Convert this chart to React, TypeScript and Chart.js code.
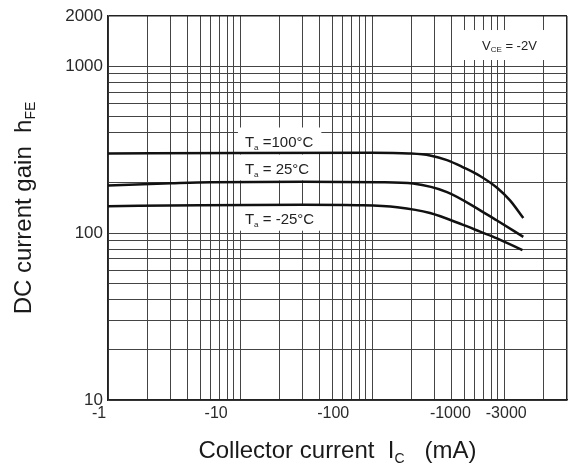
import { useEffect, useRef } from "react";
import { Chart, registerables, ChartConfiguration, Plugin } from "chart.js";

Chart.register(...registerables);

// collector current |Ic| in mA (labels carry the minus sign), hFE
const current100C = [1, 10, 100, 190, 275, 370, 490, 658, 885, 1110, 1400];
const gain100C = [300, 302, 303, 300, 292, 274, 248, 220, 187, 157, 123];
const current25C = [1, 3, 6, 30, 115, 205, 370, 660, 885, 1400];
const gain25C = [193, 199, 202, 203, 202, 198, 176, 137, 119, 95];
const currentMinus25C = [1, 5, 30, 85, 155, 275, 490, 660, 885, 1380];
const gainMinus25C = [145, 147, 148, 147, 143, 132, 112, 102, 93, 79];

const currentTickLabels = [1, 10, 100, 1000, 3000];
const gainTickLabels = [10, 100, 1000, 2000];
const tempTexts = [" =100°C", " = 25°C", " = -25°C"];
const tempAnchorCurrent = [10.9, 10.9, 10.9];
const tempAnchorGain = [354, 244, 122];
const vceAnchor = { x: 681, y: 1340 };

const FONT = '"Liberation Sans", Arial, sans-serif';

function logSteps(min: number, max: number): number[] {
  const out: number[] = [];
  for (let p = Math.floor(Math.log10(min)); Math.pow(10, p) <= max; p++) {
    for (let m = 1; m < 10; m++) {
      const v = m * Math.pow(10, p);
      if (v >= min && v <= max) out.push(v);
    }
  }
  return out;
}

type Part = { t: string; size: number; dy: number };

function drawParts(
  ctx: CanvasRenderingContext2D,
  parts: Part[],
  x: number,
  baseline: number,
  draw: boolean
): number {
  let cx = x;
  parts.forEach((p) => {
    ctx.font = `${p.size}px ${FONT}`;
    if (draw) ctx.fillText(p.t, cx, baseline + p.dy);
    cx += ctx.measureText(p.t).width;
  });
  return cx - x;
}

function tempParts(i: number): Part[] {
  return [
    { t: "T", size: 15, dy: 0 },
    { t: "a", size: 8, dy: 3 },
    { t: tempTexts[i], size: 15, dy: 0 },
  ];
}

const vceParts: Part[] = [
  { t: "V", size: 13, dy: 0 },
  { t: "CE", size: 8, dy: 2 },
  { t: " = -2V", size: 13, dy: 0 },
];

const notesPlugin: Plugin<"line"> = {
  id: "notes",
  beforeDatasetsDraw(chart) {
    const { ctx, scales, chartArea } = chart;
    ctx.save();
    ctx.fillStyle = "#fff";
    tempTexts.forEach((_, i) => {
      const x = scales.x.getPixelForValue(tempAnchorCurrent[i]);
      const y = scales.y.getPixelForValue(tempAnchorGain[i]);
      const w = drawParts(ctx, tempParts(i), 0, 0, false);
      ctx.fillRect(x - 7, y - 14, w + 15, 26);
    });
    const vx = scales.x.getPixelForValue(vceAnchor.x);
    const vy = scales.y.getPixelForValue(vceAnchor.y);
    ctx.fillRect(vx - 18, vy - 15, chartArea.right - 1 - (vx - 18), 30);
    ctx.restore();
  },
  afterDatasetsDraw(chart) {
    const { ctx, scales } = chart;
    ctx.save();
    ctx.fillStyle = "#222";
    ctx.textBaseline = "alphabetic";
    tempTexts.forEach((_, i) => {
      const x = scales.x.getPixelForValue(tempAnchorCurrent[i]);
      const y = scales.y.getPixelForValue(tempAnchorGain[i]);
      drawParts(ctx, tempParts(i), x, y + 5.5, true);
    });
    const vx = scales.x.getPixelForValue(vceAnchor.x);
    const vy = scales.y.getPixelForValue(vceAnchor.y);
    drawParts(ctx, vceParts, vx, vy + 4.5, true);
    ctx.restore();
  },
  afterDraw(chart) {
    const { ctx, chartArea } = chart;
    ctx.save();
    ctx.fillStyle = "#1a1a1a";
    ctx.textBaseline = "alphabetic";
    // x title
    const xParts: Part[] = [
      { t: "Collector current  I", size: 24, dy: 0 },
      { t: "C", size: 14, dy: 5 },
      { t: "   (mA)", size: 24, dy: 0 },
    ];
    const xw = drawParts(ctx, xParts, 0, 0, false);
    const xc = (chartArea.left + chartArea.right) / 2;
    drawParts(ctx, xParts, xc - xw / 2, 458, true);
    // y title
    const yParts: Part[] = [
      { t: "DC current gain  h", size: 24, dy: 0 },
      { t: "FE", size: 14, dy: 4 },
    ];
    const yw = drawParts(ctx, yParts, 0, 0, false);
    const yc = (chartArea.top + chartArea.bottom) / 2;
    ctx.translate(31, yc + yw / 2);
    ctx.rotate(-Math.PI / 2);
    drawParts(ctx, yParts, 0, 0, true);
    ctx.restore();
  },
};

const gridCurrent = logSteps(1, 3000);
const gridGain = logSteps(10, 2000);

function makeSeries(xs: number[], ys: number[]) {
  return xs.map((x, i) => ({ x, y: ys[i] }));
}

function App() {
  const chartRef = useRef<null | HTMLCanvasElement>(null);

  useEffect(() => {
    document.body.style.margin = "0";
    if (!chartRef.current) return;
    const lineStyle = {
      borderColor: "#111",
      borderWidth: 2.5,
      pointRadius: 0,
      cubicInterpolationMode: "monotone" as const,
      fill: false,
    };
    const config: ChartConfiguration<"line"> = {
      type: "line",
      data: {
        datasets: [
          { label: "Ta=100°C", data: makeSeries(current100C, gain100C), ...lineStyle },
          { label: "Ta=25°C", data: makeSeries(current25C, gain25C), ...lineStyle },
          { label: "Ta=-25°C", data: makeSeries(currentMinus25C, gainMinus25C), ...lineStyle },
        ],
      },
      options: {
        animation: false,
        responsive: true,
        maintainAspectRatio: false,
        layout: { padding: { left: 0, right: 6, top: 16, bottom: 0 } },
        plugins: { legend: { display: false }, tooltip: { enabled: false } },
        scales: {
          x: {
            type: "logarithmic",
            position: "bottom",
            weight: 0,
            min: 1,
            max: 3000,
            afterBuildTicks: (axis) => {
              axis.ticks = gridCurrent.map((value) => ({ value }));
            },
            afterFit: (axis) => {
              axis.height = 0;
            },
            ticks: { display: false },
            grid: {
              drawTicks: false,
              color: (c) => (c.tick && c.tick.value === 3000 ? "#222" : "#444"),
              lineWidth: (c) => (c.tick && c.tick.value === 3000 ? 1.5 : 1),
            },
            border: { color: "#222", width: 1.5 },
          },
          xLabels: {
            type: "logarithmic",
            position: "bottom",
            weight: 1,
            min: 1,
            max: 8300,
            afterBuildTicks: (axis) => {
              axis.ticks = currentTickLabels.map((value) => ({ value }));
            },
            afterFit: (axis) => {
              axis.height = 73;
            },
            ticks: {
              autoSkip: false,
              maxRotation: 0,
              padding: 4,
              labelOffset: -9,
              color: "#2a2a2a",
              font: { family: FONT, size: 16 },
              callback: (v) => `-${v}`,
            },
            grid: { display: false, drawTicks: false },
            border: { display: false },
          },
          y: {
            type: "logarithmic",
            min: 10,
            max: 2000,
            afterBuildTicks: (axis) => {
              axis.ticks = gridGain.map((value) => ({ value }));
            },
            afterFit: (axis) => {
              axis.width = 108;
            },
            ticks: {
              autoSkip: false,
              padding: 5,
              color: "#2a2a2a",
              font: { family: FONT, size: 17 },
              callback: (v) => (gainTickLabels.includes(Number(v)) ? String(v) : ""),
            },
            grid: {
              drawTicks: false,
              color: (c) => (c.tick && c.tick.value === 2000 ? "#222" : "#444"),
              lineWidth: (c) => (c.tick && c.tick.value === 2000 ? 1.5 : 1),
            },
            border: { color: "#222", width: 1.5 },
          },
        },
      },
      plugins: [notesPlugin],
    };
    const chart = new Chart(chartRef.current, config);
    return () => {
      chart.destroy();
    };
  }, []);

  return (
    <div style={{ position: "relative", width: 573, height: 473 }}>
      <canvas ref={chartRef} />
    </div>
  );
}

export default App;
